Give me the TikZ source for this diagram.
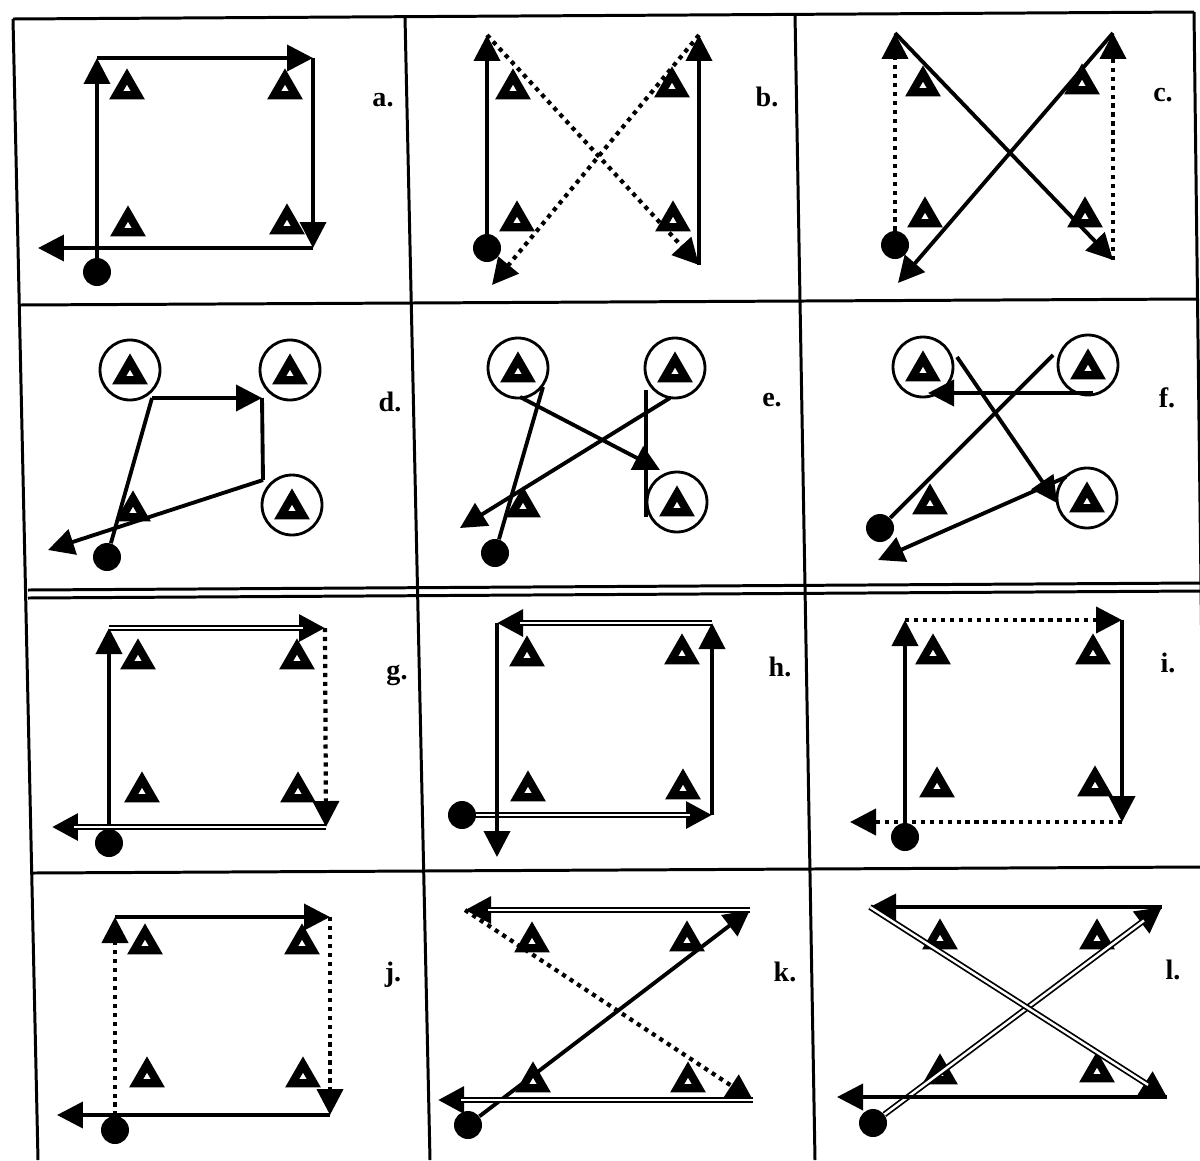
\documentclass[tikz,border=0pt]{standalone}
\usepackage{fontspec}
\setmainfont{Liberation Serif}
\usetikzlibrary{arrows.meta, shapes.geometric}

\begin{document}
\begin{tikzpicture}[
    x=0.02cm, y=-0.02cm,
    grid/.style={line width=1.7pt},
    cone/.style={regular polygon, regular polygon sides=3, draw, fill=white,
        line width=4.6pt, minimum size=0.5cm, inner sep=0pt, yshift=-0.08cm},
    ring/.style={circle, draw, line width=1.6pt, minimum size=1.2cm, inner sep=0pt},
    start/.style={circle, fill=black, minimum size=0.56cm, inner sep=0pt},
    lab/.style={font=\fontsize{16}{18}\selectfont\bfseries, inner sep=1pt},
    plain/.style={line width=2.2pt},
    run/.style={plain, -{Triangle[length=0.52cm, width=0.52cm]}},
    dotrun/.style={run, line width=2.4pt, dash pattern=on 2.4pt off 2.7pt},
    dblrun/.style={run, line width=3.4pt,
        postaction={draw, -, white, line width=1.4pt, shorten >=0.45cm}},
]
\useasboundingbox (0,0) rectangle (1200,1160);

% ===== GRID =====
\draw[grid] (13,19) -- (1194,12);
\draw[grid] (19,305) -- (1196,299);
\draw[grid] (28,590) -- (1200,583);
\draw[grid] (28,598) -- (1200,591);
\draw[grid] (33,873) -- (1200,867);
\draw[grid] (13,19) -- (38,1160);
\draw[grid] (405,17) -- (430,1160);
\draw[grid] (795,14) -- (815,1160);
\draw[grid] (1194,12) -- (1208,1160);

% ===== a. =====
\node[start] (a-dot) at (97,272) {};
\node[cone] (a-c1) at (127,85) {};
\node[cone] (a-c2) at (285,85) {};
\node[cone] (a-c3) at (128,222) {};
\node[cone] (a-c4) at (287,220) {};
\node[lab] (a-lab) at (383,100) {a.};
\coordinate (a-p1) at (97,58);
\coordinate (a-p2) at (313,58);
\coordinate (a-p3) at (313,248);
\coordinate (a-p4) at (38,248);
\draw[run] (a-dot) -- (a-p1);
\draw[run] (a-p1) -- (a-p2);
\draw[run] (a-p2) -- (a-p3);
\draw[run] (a-p3) -- (a-p4);

% ===== b. =====
\node[start] (b-dot) at (487,248) {};
\node[cone] (b-c1) at (513,85) {};
\node[cone] (b-c2) at (672,83) {};
\node[cone] (b-c3) at (517,217) {};
\node[cone] (b-c4) at (673,217) {};
\node[lab] (b-lab) at (767,97) {b.};
\coordinate (b-p1) at (487,35);
\coordinate (b-p2) at (699,265);
\coordinate (b-p3) at (699,35);
\coordinate (b-p4) at (492,285);
\draw[run] (b-dot) -- (b-p1);
\draw[dotrun] (b-p1) -- (b-p2);
\draw[run] (b-p2) -- (b-p3);
\draw[dotrun] (b-p3) -- (b-p4);

% ===== c. =====
\node[start] (c-dot) at (895,245) {};
\node[cone] (c-c1) at (923,82) {};
\node[cone] (c-c2) at (1082,80) {};
\node[cone] (c-c3) at (925,213) {};
\node[cone] (c-c4) at (1085,213) {};
\node[lab] (c-lab) at (1163,95) {c.};
\coordinate (c-p1) at (895,33);
\coordinate (c-p2) at (1113,260);
\coordinate (c-p3) at (1113,33);
\coordinate (c-p4) at (898,283);
\draw[dotrun] (c-dot) -- (c-p1);
\draw[run] (c-p1) -- (c-p2);
\draw[dotrun] (c-p2) -- (c-p3);
\draw[run] (c-p3) -- (c-p4);

% ===== d. =====
\node[ring] (d-r1) at (130,370) {};
\node[ring] (d-r2) at (290,370) {};
\node[ring] (d-r3) at (292,505) {};
\node[cone] (d-c1) at (d-r1) {};
\node[cone] (d-c2) at (d-r2) {};
\node[cone] (d-c3) at (133,507) {};
\node[cone] (d-c4) at (d-r3) {};
\node[start] (d-dot) at (107,557) {};
\node[lab] (d-lab) at (390,402) {d.};
\coordinate (d-p1) at (152,398);
\coordinate (d-p2) at (262,398);
\coordinate (d-p3) at (263,480);
\coordinate (d-p4) at (48,550);
\draw[plain] (d-dot) -- (d-p1);
\draw[run] (d-p1) -- (d-p2);
\draw[plain] (d-p2) -- (d-p3);
\draw[run] (d-p3) -- (d-p4);

% ===== e. =====
\node[ring] (e-r1) at (518,368) {};
\node[ring] (e-r2) at (675,368) {};
\node[ring] (e-r3) at (677,502) {};
\node[cone] (e-c1) at (e-r1) {};
\node[cone] (e-c2) at (e-r2) {};
\node[cone] (e-c3) at (523,503) {};
\node[cone] (e-c4) at (e-r3) {};
\node[start] (e-dot) at (495,553) {};
\node[lab] (e-lab) at (772,400) {e.};
\coordinate (e-p1) at (543,387);
\coordinate (e-p2) at (520,397);
\coordinate (e-p3) at (660,470);
\coordinate (e-p4) at (646,517);
\coordinate (e-p5) at (646,390);
\coordinate (e-p6) at (670,398);
\coordinate (e-p7) at (460,528);
\draw[plain] (e-dot) -- (e-p1);
\draw[run] (e-p2) -- (e-p3);
\draw[plain] (e-p4) -- (e-p5);
\draw[run] (e-p6) -- (e-p7);

% ===== f. =====
\node[ring] (f-r1) at (923,367) {};
\node[ring] (f-r2) at (1088,365) {};
\node[ring] (f-r3) at (1087,498) {};
\node[cone] (f-c1) at (f-r1) {};
\node[cone] (f-c2) at (f-r2) {};
\node[cone] (f-c3) at (930,500) {};
\node[cone] (f-c4) at (f-r3) {};
\node[start] (f-dot) at (880,528) {};
\node[lab] (f-lab) at (1167,398) {f.};
\coordinate (f-p1) at (1053,355);
\coordinate (f-p2) at (1093,393);
\coordinate (f-p3) at (928,393);
\coordinate (f-p4) at (957,357);
\coordinate (f-p5) at (1057,503);
\coordinate (f-p6) at (1066,477);
\coordinate (f-p7) at (878,560);
\draw[plain] (f-dot) -- (f-p1);
\draw[run] (f-p2) -- (f-p3);
\draw[run] (f-p4) -- (f-p5);
\draw[run] (f-p6) -- (f-p7);

% ===== g. =====
\node[start] (g-dot) at (109,843) {};
\node[cone] (g-c1) at (138,655) {};
\node[cone] (g-c2) at (297,655) {};
\node[cone] (g-c3) at (142,788) {};
\node[cone] (g-c4) at (298,788) {};
\node[lab] (g-lab) at (397,675) {g.};
\coordinate (g-p1) at (109,628);
\coordinate (g-p2) at (325,628);
\coordinate (g-p3) at (326,827);
\coordinate (g-p4) at (52,827);
\draw[run] (g-dot) -- (g-p1);
\draw[dblrun] (g-p1) -- (g-p2);
\draw[dotrun] (g-p2) -- (g-p3);
\draw[dblrun] (g-p3) -- (g-p4);

% ===== h. =====
\node[start] (h-dot) at (462,815) {};
\node[cone] (h-c1) at (527,652) {};
\node[cone] (h-c2) at (682,650) {};
\node[cone] (h-c3) at (528,787) {};
\node[cone] (h-c4) at (683,785) {};
\node[lab] (h-lab) at (780,667) {h.};
\coordinate (h-p1) at (712,815);
\coordinate (h-p2) at (712,623);
\coordinate (h-p3) at (497,623);
\coordinate (h-p4) at (497,857);
\draw[dblrun] (h-dot) -- (h-p1);
\draw[run] (h-p1) -- (h-p2);
\draw[dblrun] (h-p2) -- (h-p3);
\draw[run] (h-p3) -- (h-p4);

% ===== i. =====
\node[start] (i-dot) at (905,837) {};
\node[cone] (i-c1) at (933,650) {};
\node[cone] (i-c2) at (1093,650) {};
\node[cone] (i-c3) at (937,783) {};
\node[cone] (i-c4) at (1095,782) {};
\node[lab] (i-lab) at (1168,663) {i.};
\coordinate (i-p1) at (905,620);
\coordinate (i-p2) at (1122,620);
\coordinate (i-p3) at (1122,822);
\coordinate (i-p4) at (850,822);
\draw[run] (i-dot) -- (i-p1);
\draw[dotrun] (i-p1) -- (i-p2);
\draw[run] (i-p2) -- (i-p3);
\draw[dotrun] (i-p3) -- (i-p4);

% ===== j. =====
\node[start] (j-dot) at (115,1130) {};
\node[cone] (j-c1) at (145,940) {};
\node[cone] (j-c2) at (302,940) {};
\node[cone] (j-c3) at (147,1073) {};
\node[cone] (j-c4) at (303,1073) {};
\node[lab] (j-lab) at (393,975) {j.};
\coordinate (j-p1) at (115,917);
\coordinate (j-p2) at (330,917);
\coordinate (j-p3) at (330,1115);
\coordinate (j-p4) at (57,1115);
\draw[dotrun] (j-dot) -- (j-p1);
\draw[run] (j-p1) -- (j-p2);
\draw[dotrun] (j-p2) -- (j-p3);
\draw[run] (j-p3) -- (j-p4);

% ===== k. =====
\node[start] (k-dot) at (468,1125) {};
\node[cone] (k-c1) at (532,938) {};
\node[cone] (k-c2) at (687,937) {};
\node[cone] (k-c3) at (533,1078) {};
\node[cone] (k-c4) at (688,1078) {};
\node[lab] (k-lab) at (785,972) {k.};
\coordinate (k-p1) at (750,910);
\coordinate (k-p2) at (465,910);
\coordinate (k-p3) at (753,1100);
\coordinate (k-p4) at (438,1100);
\draw[run] (k-dot) -- (k-p1);
\draw[dblrun] (k-p1) -- (k-p2);
\draw[dotrun] (k-p2) -- (k-p3);
\draw[dblrun] (k-p3) -- (k-p4);

% ===== l. =====
\node[start] (l-dot) at (873,1123) {};
\node[cone] (l-c1) at (940,935) {};
\node[cone] (l-c2) at (1097,935) {};
\node[cone] (l-c3) at (940,1070) {};
\node[cone] (l-c4) at (1097,1068) {};
\node[lab] (l-lab) at (1173,970) {l.};
\coordinate (l-p1) at (1162,907);
\coordinate (l-p2) at (870,907);
\coordinate (l-p3) at (1167,1097);
\coordinate (l-p4) at (837,1097);
\draw[dblrun] (l-dot) -- (l-p1);
\draw[run] (l-p1) -- (l-p2);
\draw[dblrun] (l-p2) -- (l-p3);
\draw[run] (l-p3) -- (l-p4);

\end{tikzpicture}
\end{document}
